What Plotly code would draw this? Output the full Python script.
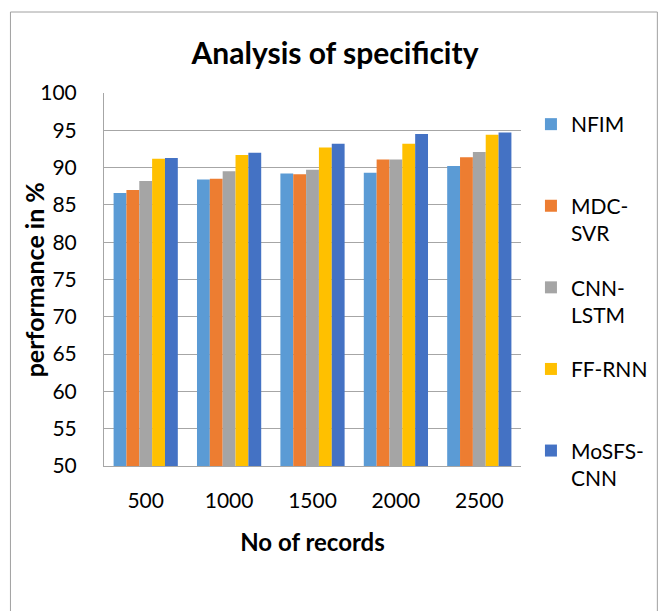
import plotly.graph_objects as go

categories = ["500", "1000", "1500", "2000", "2500"]
series_names = ["NFIM", "MDC-SVR", "CNN-LSTM", "FF-RNN", "MoSFS-CNN"]
legend_labels = ["NFIM<br> ", "MDC-<br>SVR", "CNN-<br>LSTM", "FF-RNN<br> ", "MoSFS-<br>CNN"]
nfim = [86.6, 88.4, 89.2, 89.3, 90.2]
mdc_svr = [87.0, 88.5, 89.1, 91.1, 91.4]
cnn_lstm = [88.2, 89.5, 89.7, 91.1, 92.1]
ff_rnn = [91.2, 91.7, 92.7, 93.2, 94.4]
mosfs_cnn = [91.3, 92.0, 93.2, 94.5, 94.7]
y_ticks = [50, 55, 60, 65, 70, 75, 80, 85, 90, 95, 100]

colors = ["#5B9BD5", "#ED7D31", "#A5A5A5", "#FFC000", "#4472C4"]
values = [nfim, mdc_svr, cnn_lstm, ff_rnn, mosfs_cnn]

FONT = "Lato, 'Open Sans', sans-serif"

fig = go.Figure()
for name, lab, vals, col in zip(series_names, legend_labels, values, colors):
    fig.add_trace(go.Bar(x=categories, y=vals, name=lab, legendgroup=name,
                         marker=dict(color=col, line=dict(width=0))))

W, H = 665, 611
L, R, T, B = 104, 142, 93, 145
pw, ph = W - L - R, H - T - B

def px_x(x):
    return (x - L) / pw

def px_y(y):
    return (H - B - y) / ph

fig.update_layout(
    width=W, height=H,
    margin=dict(l=L, r=R, t=T, b=B, pad=0),
    paper_bgcolor="white", plot_bgcolor="white",
    font=dict(family=FONT, size=21, color="black"),
    barmode="group", bargap=0.23, bargroupgap=0,
    title=dict(text="<b>Analysis of specificity</b>", font=dict(size=30, family=FONT, color="black"),
               x=335 / W, xanchor="center", xref="container",
               y=1 - 53 / H, yanchor="middle", yref="container"),
    legend=dict(x=px_x(533), y=px_y(104), xanchor="left", yanchor="top",
                valign="top", tracegroupgap=24, font=dict(size=21, family=FONT),
                maxheight=600, bgcolor="rgba(0,0,0,0)"),
    xaxis=dict(type="category", showgrid=False, showline=True, linecolor="#a6a6a6",
               linewidth=1, ticks="", ticklabelstandoff=16,
               title=dict(text="<b>No of records</b>", font=dict(size=24, family=FONT), standoff=22)),
    yaxis=dict(range=[50, 100], tickvals=y_ticks, showgrid=True, gridcolor="#a6a6a6",
               gridwidth=1, showline=True, linecolor="#a6a6a6", linewidth=1,
               ticks="", ticklabelstandoff=22, zeroline=False),
    annotations=[dict(text="<b>performance in %</b>", textangle=-90, showarrow=False,
                      xref="paper", yref="paper", x=px_x(34), y=px_y(280),
                      xanchor="center", yanchor="middle", font=dict(size=25, family=FONT))],
    shapes=[dict(type="rect", xref="paper", yref="paper",
                 x0=px_x(10), x1=px_x(660), y0=px_y(640), y1=px_y(12),
                 line=dict(color="#a0a0a0", width=1), fillcolor="rgba(0,0,0,0)", layer="below")],
)

fig.write_html("out.html")
